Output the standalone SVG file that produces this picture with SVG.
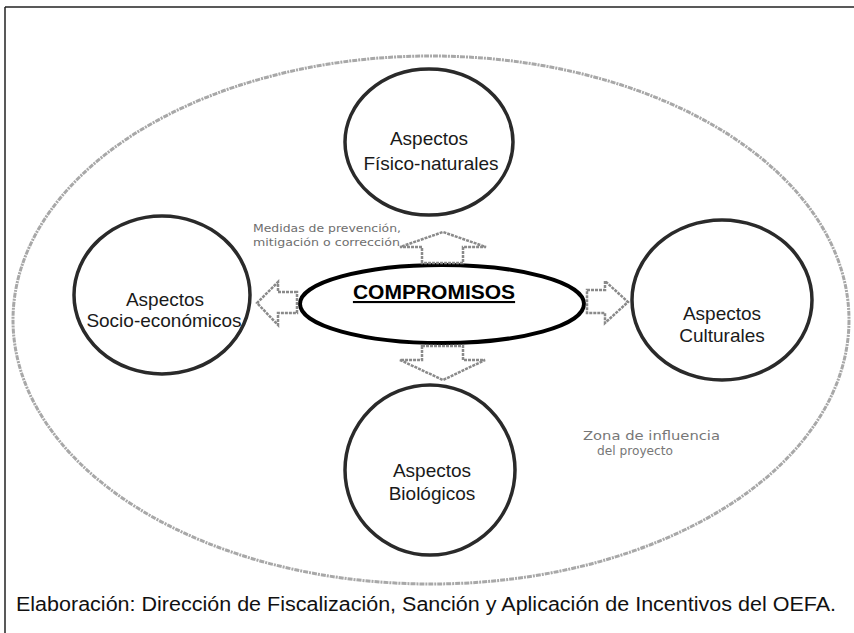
<svg xmlns="http://www.w3.org/2000/svg" width="854" height="633" viewBox="0 0 854 633">
<style>
.frame{stroke:#222;stroke-width:1.5;fill:none}
.zone{fill:none;stroke:#a8a8a8;stroke-width:3;stroke-dasharray:5 1 2 1}
.asp{fill:none;stroke:#2a2a2a;stroke-width:3.5}
.core{fill:none;stroke:#000;stroke-width:4}
.arrow{fill:#fff;stroke:#8a8a8a;stroke-width:2.5;stroke-dasharray:3 1;stroke-linejoin:miter}
.lbl{font-family:"Liberation Sans",Arial,sans-serif;font-size:19px;fill:#1a1a1a;text-anchor:middle}
.note{font-family:"DejaVu Sans","Liberation Sans",sans-serif;font-size:11px;fill:#6e6e6e}
.zn{font-family:"DejaVu Sans","Liberation Sans",sans-serif;font-size:12px;fill:#777}
</style>
<rect width="854" height="633" fill="#fff"/>
<g id="frame">
<line class="frame" x1="5" y1="7" x2="854" y2="7"/>
<line class="frame" x1="5" y1="7" x2="5" y2="633"/>
</g>
<g id="zona">
<ellipse class="zone" cx="431" cy="320" rx="418" ry="264"/>
<text class="zn" x="583" y="440" textLength="137" lengthAdjust="spacingAndGlyphs">Zona de influencia</text>
<text class="zn" x="597" y="455" textLength="76" lengthAdjust="spacingAndGlyphs">del proyecto</text>
</g>
<g id="fisico">
<ellipse class="asp" cx="429" cy="142" rx="84" ry="73"/>
<text class="lbl" x="429" y="145">Aspectos</text>
<text class="lbl" x="431" y="170">Físico-naturales</text>
</g>
<g id="socio">
<ellipse class="asp" cx="162" cy="295" rx="88" ry="79"/>
<text class="lbl" x="165" y="306">Aspectos</text>
<text class="lbl" x="164" y="327">Socio-económicos</text>
</g>
<g id="cultural">
<ellipse class="asp" cx="722" cy="300" rx="90" ry="80"/>
<text class="lbl" x="722" y="320">Aspectos</text>
<text class="lbl" x="722" y="342">Culturales</text>
</g>
<g id="biologico">
<ellipse class="asp" cx="430" cy="470" rx="85" ry="85"/>
<text class="lbl" x="432" y="477">Aspectos</text>
<text class="lbl" x="432" y="500">Biológicos</text>
</g>
<g id="compromisos">
<ellipse class="core" cx="442" cy="304" rx="142" ry="39"/>
<text x="434" y="299" font-family="Liberation Sans,Arial,sans-serif" font-size="21" font-weight="bold" fill="#000" text-anchor="middle" text-decoration="underline">COMPROMISOS</text>
</g>
<g id="connectors">
<polygon class="arrow" points="422,263 422,247 400,247 443,232 486,247 463,247 463,263"/>
<polygon class="arrow" points="297,292 278,292 278,282 257,303 278,325 278,313 297,313"/>
<polygon class="arrow" points="587,290 605,290 605,281 628,302 605,323 605,313 587,313"/>
<polygon class="arrow" points="422,346 463,346 463,360 485,360 443,380 400,360 422,360"/>
</g>
<g id="medidas">
<text class="note" x="253" y="232" textLength="148" lengthAdjust="spacingAndGlyphs">Medidas de prevención,</text>
<text class="note" x="253" y="246" textLength="147" lengthAdjust="spacingAndGlyphs">mitigación o corrección</text>
</g>
<g id="caption">
<text x="16" y="611" font-family="Liberation Sans,Arial,sans-serif" font-size="20" fill="#111" textLength="820" lengthAdjust="spacingAndGlyphs">Elaboración: Dirección de Fiscalización, Sanción y Aplicación de Incentivos del OEFA.</text>
</g>
</svg>
